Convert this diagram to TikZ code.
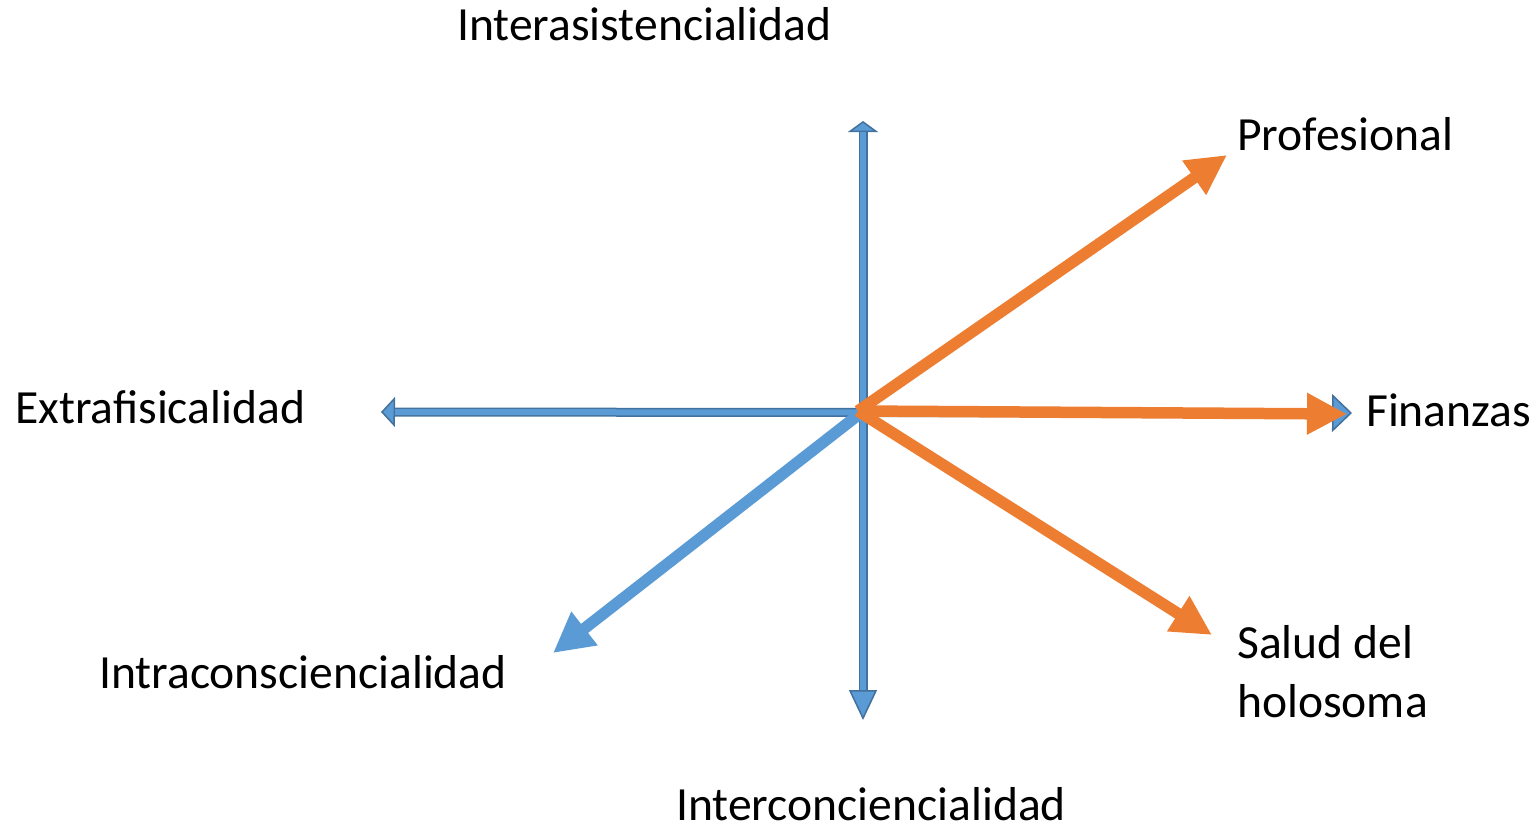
\documentclass[tikz,border=0pt]{standalone}
\usepackage{fontspec}
\setmainfont{Carlito}
\usetikzlibrary{arrows.meta}
\definecolor{axfill}{HTML}{5B9BD5}
\definecolor{axline}{HTML}{41719C}
\definecolor{orng}{HTML}{ED7D31}
\tikzset{
  lbl/.style={inner sep=0pt, anchor=base west, font=\fontsize{47.6}{59}\selectfont},
  axisouter/.style={draw=axline, line width=9pt},
  axisinner/.style={draw=axfill, line width=6pt},
  orangearrow/.style={draw=orng, line width=11.5pt, -{Triangle[length=40pt,width=39pt]}},
  bluearrow/.style={draw=axfill, line width=11.5pt, -{Triangle[length=40pt,width=40pt]}}
}
\begin{document}
\begin{tikzpicture}[x=1pt,y=-1pt]
\useasboundingbox (0,0) rectangle (1540,828);
% coordinates
\coordinate (O) at (862,412);
\coordinate (OO) at (858,411);
\coordinate (L) at (381,412);
\coordinate (R) at (1352,413);
\coordinate (T) at (863,121);
\coordinate (B) at (863,720);
\coordinate (Tprof) at (1227,155);
\coordinate (Tfin) at (1347,414);
\coordinate (Tsal) at (1212,635);
\coordinate (Tintra) at (553,653);
% labels
\node[lbl] (inter) at (457,40) {Interasistencialidad};
\node[lbl] (prof) at (1237,150) {Profesional};
\node[lbl] (extra) at (15,423) {Extrafisicalidad};
\node[lbl] (fin) at (1366,426) {Finanzas};
\node[lbl] (intra) at (99,688) {Intraconsciencialidad};
\node[lbl, align=left] (salud) at (1237,717) {Salud del\\holosoma};
\node[lbl] (intercon) at (676,820) {Interconciencialidad};
% axes
\draw[axisouter,
  {Triangle[length=14pt,width=30pt,fill=axfill,line width=1.5pt]}-{Triangle[length=20pt,width=38pt,fill=axfill,line width=1.5pt]}]
  (L) -- (R);
\draw[axisinner, shorten <=14pt, shorten >=20pt] (L) -- (R);
\draw[axisouter,
  {Triangle[length=11pt,width=30pt,fill=axfill,line width=1.5pt]}-{Triangle[length=30pt,width=28pt,fill=axfill,line width=1.5pt]}]
  (T) -- (B);
\draw[axisinner, shorten <=11pt, shorten >=30pt] (T) -- (B);
% blue diagonal
\draw[bluearrow] (O) -- (Tintra);
% orange arrows
\draw[orangearrow] (OO) -- (Tprof);
\draw[orangearrow] (OO) -- (Tfin);
\draw[orangearrow] (OO) -- (Tsal);
\end{tikzpicture}
\end{document}
